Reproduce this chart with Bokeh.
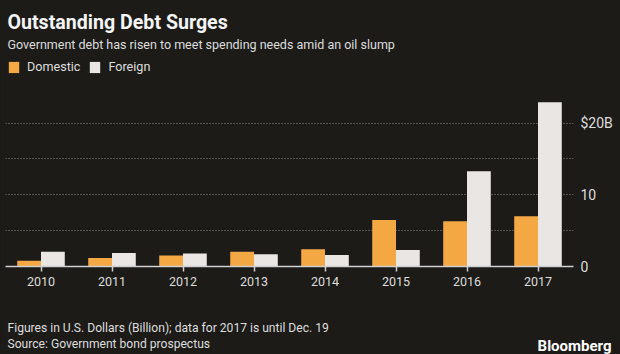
from bokeh.plotting import figure
from bokeh.layouts import column, row
from bokeh.models import (ColumnDataSource, FactorRange, Label, Legend, LegendItem,
                          FixedTicker, Range1d)
from bokeh.transform import dodge
from bokeh.embed import file_html
from bokeh.resources import INLINE

# ---- data ----
years = ["2010", "2011", "2012", "2013", "2014", "2015", "2016", "2017"]
domestic = [0.8, 1.2, 1.55, 2.05, 2.4, 6.5, 6.3, 7.0]
foreign = [2.05, 1.9, 1.8, 1.7, 1.6, 2.3, 13.3, 22.9]
y_ticks = [0, 5, 10, 15, 20]
y_tick_labels = {0: "0", 5: "", 10: "10", 15: "", 20: "$20B"}
series_names = ["Domestic", "Foreign"]

title_text = "Outstanding Debt Surges"
subtitle_text = "Government debt has risen to meet spending needs amid an oil slump"
note_text = "Figures in U.S. Dollars (Billion); data for 2017 is until Dec. 19"
source_text = "Source: Government bond prospectus"
brand_text = "Bloomberg"

# ---- style ----
BG = "#1c1b18"
ORANGE = "#f4a844"
WHITE = "#e9e6e3"
TEXT = "#f4f4f4"
SUB = "#dedede"
FONT = "Roboto"
W = 620
HEAD_H, CHART_H, FOOT_H = 57, 237, 60
Y_MAX = 29.16  # frame reaches up to the legend row


def blank_fig(h):
    f = figure(width=W, height=h, x_range=Range1d(0, W), y_range=Range1d(0, h),
               output_backend="svg", toolbar_location=None,
               x_axis_type=None, y_axis_type=None, min_border=0)
    f.background_fill_color = BG
    f.border_fill_color = BG
    f.outline_line_color = None
    f.xgrid.visible = False
    f.ygrid.visible = False
    return f


def add_text(f, x, y, text, size, color, style="normal", align="left", font=FONT):
    f.add_layout(Label(x=x, y=y, x_units="canvas", y_units="canvas", text=text,
                       text_font=font, text_font_size=size, text_color=color,
                       text_font_style=style, text_align=align,
                       text_baseline="alphabetic"))


# ---- header ----
head = blank_fig(HEAD_H)
add_text(head, 7, 22, title_text, "19.6px", TEXT, "bold")
add_text(head, 7, 44, subtitle_text, "12.5px", SUB)

# ---- chart ----
src = ColumnDataSource(dict(year=years, domestic=domestic, foreign=foreign))
p = figure(width=W, height=CHART_H, x_range=FactorRange(*years), y_range=Range1d(0, Y_MAX),
           output_backend="svg", toolbar_location=None, y_axis_location="right",
           min_border_left=5, min_border_right=47, min_border_top=0, min_border_bottom=28)
p.background_fill_color = BG
p.border_fill_color = BG
p.outline_line_color = None

r1 = p.vbar(x=dodge("year", -0.1675, range=p.x_range), top="domestic", width=0.335,
            source=src, color=ORANGE, line_color=None)
r2 = p.vbar(x=dodge("year", 0.1675, range=p.x_range), top="foreign", width=0.335,
            source=src, color=WHITE, line_color=None)

legend = Legend(items=[LegendItem(label=series_names[0], renderers=[r1]),
                       LegendItem(label=series_names[1], renderers=[r2])],
                orientation="horizontal", location="top_left",
                glyph_width=13, glyph_height=14, label_height=14, label_standoff=7,
                spacing=8, padding=0, margin=2, background_fill_alpha=0,
                border_line_color=None, label_text_font=FONT,
                label_text_font_size="12.6px", label_text_color=SUB)
p.add_layout(legend, "center")

p.xgrid.grid_line_color = None
p.ygrid.ticker = FixedTicker(ticks=y_ticks)
p.ygrid.grid_line_color = "#8c8c8c"
p.ygrid.grid_line_dash = "1 2"
p.ygrid.grid_line_width = 1

p.yaxis.ticker = FixedTicker(ticks=y_ticks)
p.yaxis.major_label_overrides = y_tick_labels
p.yaxis.axis_line_color = None
p.yaxis.major_tick_line_color = None
p.yaxis.minor_tick_line_color = None
p.yaxis.major_tick_out = 0
p.yaxis.major_tick_in = 0
p.yaxis.minor_tick_out = 0
p.yaxis.major_label_standoff = 7
p.yaxis.major_label_text_font = FONT
p.yaxis.major_label_text_font_size = "14px"
p.yaxis.major_label_text_color = SUB

p.xaxis.axis_line_color = "#d0d0d0"
p.xaxis.axis_line_width = 1.5
p.xaxis.major_tick_line_color = "#d0d0d0"
p.xaxis.major_tick_line_width = 1.5
p.xaxis.major_tick_out = 5
p.xaxis.major_tick_in = 0
p.xaxis.major_label_standoff = 5
p.xaxis.major_label_text_font = FONT
p.xaxis.major_label_text_font_size = "12.5px"
p.xaxis.major_label_text_color = SUB

# ---- footer ----
foot = blank_fig(FOOT_H)
add_text(foot, 7, 327 - 294, note_text, "12.1px", SUB)
add_text(foot, 7, 343 - 294, source_text, "12.1px", SUB)
add_text(foot, 611, 345 - 294, brand_text, "15px", "#ffffff", "bold", "right")

layout = column(row(head), row(p), row(foot), spacing=0,
                styles={"background-color": BG})
open("out.html", "w").write(file_html(layout, INLINE))
